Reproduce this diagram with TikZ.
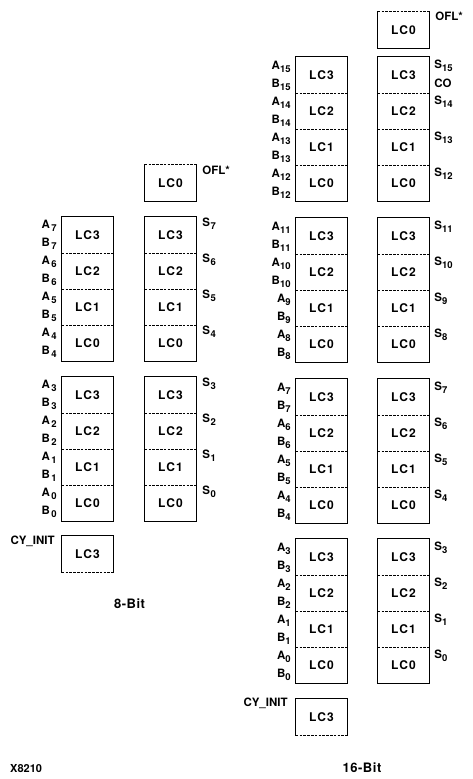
\documentclass[tikz,border=0pt]{standalone}
\usepackage{fontspec}
\setmainfont{TeX Gyre Heros}
\usetikzlibrary{positioning}
\tikzset{
  lc/.style={rectangle, inner sep=0pt, minimum width=51pt, minimum height=36pt, font=\fontsize{12}{14}\selectfont\bfseries\addfontfeature{LetterSpace=9}},
  sig/.style={inner sep=0pt, font=\fontsize{11.5}{13}\selectfont\bfseries},
  bitlabel/.style={inner sep=0pt, font=\fontsize{13}{15}\selectfont\bfseries\addfontfeature{LetterSpace=4}},
  clbframe/.style={line width=1pt, line cap=rect},
  cut/.style={line width=0.7pt, dash pattern=on 2.6pt off 1.2pt}
}
\def\slot{36}
\def\lsub#1{\raisebox{-2.6pt}{\fontsize{9.5}{10}\selectfont#1}}

\begin{document}
\begin{tikzpicture}[x=1pt, y=-1pt]
\useasboundingbox (0,0) rectangle (473,779);

% --- 8-Bit ---
% two CLBs per column, four LCs each
\foreach \t/\g in {217/1, 377/0} {
  \foreach \k in {0,1,2,3} {
    \pgfmathtruncatemacro\n{4*\g+\k}
    \node[lc] (eA\n) at (87.5,{\t+(3-\k)*\slot+\slot/2})  {LC\k};
    \node[lc] (eS\n) at (170.5,{\t+(3-\k)*\slot+\slot/2}) {LC\k};
    \node[sig, anchor=east] (ea\n) at ([shift={(-5,9)}]eA\n.north west)  {A\kern1.5pt\lsub{\n}};
    \node[sig, anchor=east] (eb\n) at ([shift={(-5,27)}]eA\n.north west) {B\kern1.5pt\lsub{\n}};
    \node[sig, anchor=west] (es\n) at ([shift={(6,7)}]eS\n.north east)   {S\kern0.5pt\lsub{\n}};
  }
  \pgfmathtruncatemacro\lo{4*\g}
  \pgfmathtruncatemacro\hi{4*\g+3}
  \foreach \c in {eA,eS} {
    \draw[clbframe] (\c\hi.north west) rectangle (\c\lo.south east);
    \foreach \k in {1,2,3} {
      \pgfmathtruncatemacro\m{4*\g+\k}
      \draw[cut] (\c\m.south west) -- (\c\m.south east);
    }
  }
}

% overflow LC on top of the sum column
\node[lc] (eofl) at (170.5,183) {LC0};
\draw[cut] (eofl.north west) -- (eofl.north east);
\draw[clbframe] (eofl.north west) -- (eofl.south west) -- (eofl.south east) -- (eofl.north east);
\node[sig, anchor=west] (eoflout) at ([shift={(6,6)}]eofl.north east) {OFL*};

% carry init LC below the operand column
\node[lc] (ecy) at (87.5,554) {LC3};
\draw[cut] (ecy.south west) -- (ecy.south east);
\draw[clbframe] (ecy.south west) -- (ecy.north west) -- (ecy.north east) -- (ecy.south east);
\node[sig, anchor=east] (ecyin) at ([shift={(-7,6)}]ecy.north west) {CY\_INIT};

\node[bitlabel] (etitle) at (129.5,604) {8-Bit};

% --- 16-Bit ---
\foreach \t/\g in {57/3, 218/2, 379/1, 539/0} {
  \foreach \k in {0,1,2,3} {
    \pgfmathtruncatemacro\n{4*\g+\k}
    \node[lc] (wA\n) at (321.5,{\t+(3-\k)*\slot+\slot/2}) {LC\k};
    \node[lc] (wS\n) at (403.5,{\t+(3-\k)*\slot+\slot/2}) {LC\k};
    \node[sig, anchor=east] (wa\n) at ([shift={(-5,10)}]wA\n.north west) {A\lsub{\n}};
    \node[sig, anchor=east] (wb\n) at ([shift={(-5,28)}]wA\n.north west) {B\lsub{\n}};
    \node[sig, anchor=west] (ws\n) at ([shift={(5,9)}]wS\n.north east)   {S\lsub{\n}};
  }
  \pgfmathtruncatemacro\lo{4*\g}
  \pgfmathtruncatemacro\hi{4*\g+3}
  \foreach \c in {wA,wS} {
    \draw[clbframe] (\c\hi.north west) rectangle (\c\lo.south east);
    \foreach \k in {1,2,3} {
      \pgfmathtruncatemacro\m{4*\g+\k}
      \draw[cut] (\c\m.south west) -- (\c\m.south east);
    }
  }
}
\node[sig, anchor=west] (wco) at ([shift={(5,27)}]wS15.north east) {CO};

% overflow LC on top of the sum column
\node[lc] (wofl) at (403.5,30) {LC0};
\draw[cut] (wofl.north west) -- (wofl.north east);
\draw[clbframe] (wofl.north west) -- (wofl.south west) -- (wofl.south east) -- (wofl.north east);
\node[sig, anchor=west] (woflout) at ([shift={(6,5)}]wofl.north east) {OFL*};

% carry init LC below the operand column
\node[lc] (wcy) at (321.5,717) {LC3};
\draw[cut] (wcy.south west) -- (wcy.south east);
\draw[clbframe] (wcy.south west) -- (wcy.north west) -- (wcy.north east) -- (wcy.south east);
\node[sig, anchor=east] (wcyin) at ([shift={(-8,5)}]wcy.north west) {CY\_INIT};

\node[bitlabel] (wtitle) at (362,768) {16-Bit};

\node[sig, anchor=west, font=\fontsize{11}{13}\selectfont\bfseries] (figid) at (10,769) {X8210};

\end{tikzpicture}
\end{document}
